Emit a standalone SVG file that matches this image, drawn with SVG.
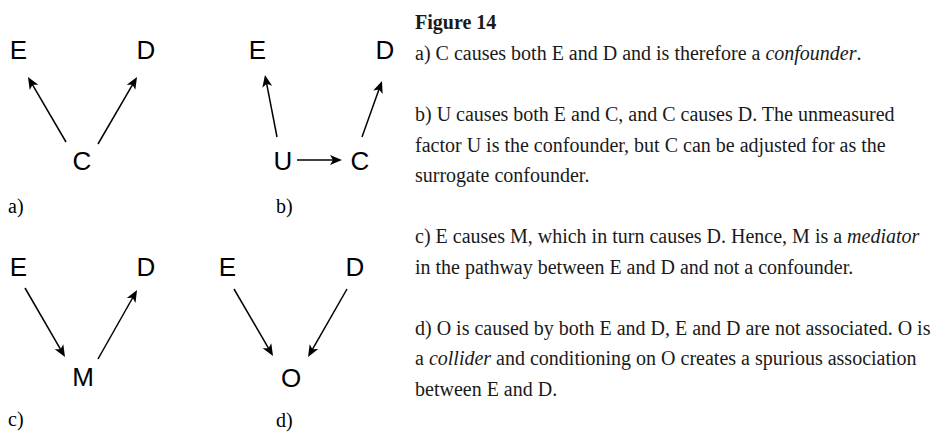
<svg xmlns="http://www.w3.org/2000/svg" width="933" height="432" viewBox="0 0 933 432">
  <style>
    .node { font-family: "Liberation Sans", Arial, sans-serif; font-size: 26px; fill: #000; text-anchor: middle; }
    .panel { font-family: "Liberation Serif", "Times New Roman", serif; font-size: 20px; fill: #000; }
    .caption { font-family: "Liberation Serif", "Times New Roman", serif; font-size: 20px; fill: #1a1a1a; }
    .title { font-weight: bold; }
    .edge { stroke: #000; stroke-width: 1.5; fill: none; marker-end: url(#arrow); }
  </style>
  <defs>
    <marker id="arrow" markerUnits="userSpaceOnUse" markerWidth="14" markerHeight="12" refX="4" refY="6" orient="auto">
      <path d="M12,6 L0,1 L3,6 L0,11 Z" fill="#000"/>
    </marker>
  </defs>
  <rect width="933" height="432" fill="#fff"/>

  <!-- Panel a: confounder -->
  <g id="a-E"><text class="node" x="18.5" y="59">E</text></g>
  <g id="a-D"><text class="node" x="146" y="59">D</text></g>
  <g id="a-C"><text class="node" x="82" y="170">C</text></g>
  <text class="panel" x="8" y="213">a)</text>

  <!-- Panel b: surrogate confounder -->
  <g id="b-E"><text class="node" x="257.5" y="59">E</text></g>
  <g id="b-D"><text class="node" x="385" y="59">D</text></g>
  <g id="b-U"><text class="node" x="283" y="170">U</text></g>
  <g id="b-C"><text class="node" x="360" y="170">C</text></g>
  <text class="panel" x="276" y="213">b)</text>

  <!-- Panel c: mediator -->
  <g id="c-E"><text class="node" x="18.5" y="276">E</text></g>
  <g id="c-D"><text class="node" x="146" y="276">D</text></g>
  <g id="c-M"><text class="node" x="83" y="386">M</text></g>
  <text class="panel" x="8" y="426">c)</text>

  <!-- Panel d: collider -->
  <g id="d-E"><text class="node" x="227.5" y="276">E</text></g>
  <g id="d-D"><text class="node" x="355" y="276">D</text></g>
  <g id="d-O"><text class="node" x="291" y="387">O</text></g>
  <text class="panel" x="276" y="427">d)</text>

  <!-- Causal arrows -->
  <g id="connectors">
    <line class="edge" x1="66" y1="142" x2="32" y2="83.9"/>
    <line class="edge" x1="98" y1="144" x2="133" y2="83.9"/>

    <line class="edge" x1="277" y1="137" x2="266.5" y2="82.8"/>
    <line class="edge" x1="297" y1="160" x2="334" y2="160"/>
    <line class="edge" x1="362" y1="137" x2="379.3" y2="88.5"/>

    <line class="edge" x1="25" y1="288" x2="61" y2="350.1"/>
    <line class="edge" x1="98" y1="359" x2="133.1" y2="297"/>

    <line class="edge" x1="234" y1="289" x2="269" y2="349.1"/>
    <line class="edge" x1="347" y1="289" x2="312" y2="350.1"/>
  </g>

  <!-- Figure caption -->
  <g id="caption" class="caption">
    <text class="title" x="415" y="29">Figure 14</text>
    <text x="415" y="60">a) C causes both E and D and is therefore a <tspan font-style="italic">confounder</tspan>.</text>
    <text x="415" y="121">b) U causes both E and C, and C causes D. The unmeasured</text>
    <text x="415" y="151.5">factor U is the confounder, but C can be adjusted for as the</text>
    <text x="415" y="182">surrogate confounder.</text>
    <text x="415" y="243">c) E causes M, which in turn causes D. Hence, M is a <tspan font-style="italic">mediator</tspan></text>
    <text x="415" y="273.5">in the pathway between E and D and not a confounder.</text>
    <text x="415" y="334.5">d) O is caused by both E and D, E and D are not associated. O is</text>
    <text x="415" y="365">a <tspan font-style="italic">collider</tspan> and conditioning on O creates a spurious association</text>
    <text x="415" y="395.5">between E and D.</text>
  </g>
</svg>
